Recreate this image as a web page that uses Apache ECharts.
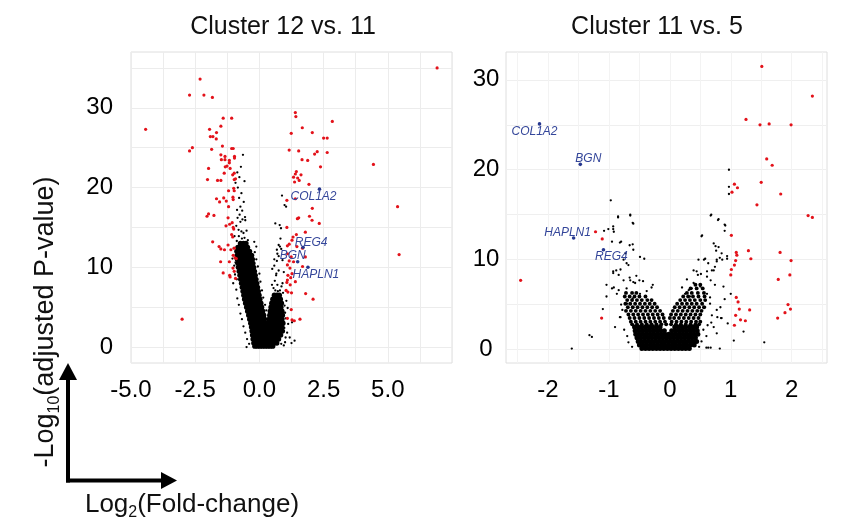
<!DOCTYPE html>
<html><head><meta charset="utf-8">
<script src="https://cdn.jsdelivr.net/npm/echarts@6/dist/echarts.min.js"></script>
<style>html,body{margin:0;padding:0;background:#fff}#c{width:849px;height:530px}</style>
</head><body><div id="c"></div>
<script>
// ---------- axis ticks / labels ----------
const leftXTicks = [-5,-3.75,-2.5,-1.25,0,1.25,2.5,3.75,5,6.25,7.5];
const leftXLabels = [-5,-2.5,0,2.5,5];
const leftYTicks = [0,5,10,15,20,25,30,35];
const leftYLabels = [0,10,20,30];
const rightXTicks = [-2.5,-2,-1.5,-1,-0.5,0,0.5,1,1.5,2,2.5];
const rightXLabels = [-2,-1,0,1,2];
const rightYTicks = [0,5,10,15,20,25,30];
const rightYLabels = [0,10,20,30];

// ---------- Cluster 12 vs. 11 ----------
const leftGenes = ['COL1A2','REG4','BGN','HAPLN1'];
const leftGeneValues = [[2.34,19.8],[1.70,12.5],[1.49,10.7],[1.89,10.0]];
const leftRed = [
[-2.31,33.6],[-2.72,31.6],[-2.16,31.6],[-1.83,31.3],[-4.43,27.3],[-1.41,28.7],[-1.08,28.7],[-1.50,27.7],[-1.94,27.3],[-1.67,26.9],
[-1.91,26.4],[-1.81,26.4],[-1.68,26.1],[-2.61,25.0],[-2.72,24.6],[-1.86,24.8],[-1.44,25.2],[-1.08,24.9],[-1.02,24.9],[-1.50,24.1],
[-1.34,23.9],[-1.48,23.5],[-1.34,23.5],[-0.97,23.9],[-0.97,23.7],[-1.17,23.4],[-1.17,23.1],[-1.26,22.7],[-1.33,22.6],[-1.14,22.4],
[-1.98,22.4],[-1.37,21.8],[-1.04,21.6],[-0.98,21.8],[-2.02,21.0],[-1.63,20.9],[-1.50,20.9],[-0.98,21.0],[-0.93,21.1],[-1.20,19.6],
[-1.00,19.9],[-0.98,19.6],[-1.67,18.6],[-1.55,18.2],[-1.39,18.7],[-1.29,18.3],[-1.03,18.8],[-1.02,18.5],[-1.20,17.6],
[-2.04,16.4],[-1.98,16.7],[-1.77,16.5],[-1.22,16.2],[-1.30,15.2],[-1.16,15.4],[-1.06,15.6],[-1.02,15.0],[-1.00,14.8],[-1.08,14.1],
[-1.04,13.8],[-1.82,13.2],[-1.57,12.6],[-1.50,12.3],[-1.36,12.2],[-1.22,12.8],[-1.11,12.2],[-0.98,12.4],[-1.02,11.5],[-0.95,11.2],
[-0.90,11.1],[-1.51,10.7],[-1.17,10.7],[-1.03,9.9],[-0.98,9.5],[-1.41,9.3],[-1.16,9.0],[-1.14,8.8],[-0.93,8.6],[-3.01,3.5],
[1.40,29.4],[1.42,28.9],[2.84,28.3],[1.24,26.8],[1.67,27.5],[2.06,26.9],[2.50,26.2],[2.64,26.2],[1.16,24.7],[1.53,24.6],
[2.15,24.2],[2.25,24.5],[2.64,24.4],[1.66,23.5],[1.88,23.4],[2.38,22.6],[4.44,22.9],[1.44,22.0],[1.40,21.7],[1.62,21.6],
[1.33,21.3],[1.49,21.2],[1.55,20.9],[1.37,20.7],[1.93,20.4],[1.07,18.4],[1.40,18.6],[2.06,17.4],[1.53,16.2],[1.48,16.1],
[1.95,16.4],[2.05,15.9],[2.33,15.5],[1.07,15.0],[1.79,14.4],[1.44,14.1],[1.31,13.8],[1.27,13.4],[1.16,12.9],[1.09,12.7],
[1.46,12.6],[1.68,12.4],[1.79,11.3],[1.10,11.7],[1.24,11.3],[1.16,10.8],[1.33,10.7],[1.09,10.3],[1.68,10.1],[1.19,9.9],
[1.27,9.2],[1.11,9.0],[1.22,8.7],[1.09,8.4],[1.40,8.2],[1.07,8.1],[1.20,7.8],[1.04,7.1],[1.11,6.9],[1.25,6.8],
[1.80,6.7],[2.09,6.0],[1.24,4.7],[1.09,3.6],[1.27,3.4],[1.36,3.3],[1.58,3.5],[6.92,35.0],[5.38,17.6],[5.44,11.6]
];
// dense non-significant core, listed row by row: [y, [x...]]
const leftCoreRows = [
[13.0,[-0.74,-0.62,-0.52]],
[12.5,[-0.84,-0.74,-0.64,-0.54,-0.46]],
[12.0,[-0.88,-0.78,-0.68,-0.58,-0.48,-0.38]],
[11.5,[-0.87,-0.77,-0.67,-0.57,-0.47,-0.37,-0.30]],
[11.0,[-0.86,-0.76,-0.66,-0.56,-0.46,-0.36,-0.27]],
[10.5,[-0.84,-0.74,-0.64,-0.54,-0.44,-0.34,-0.25]],
[10.0,[-0.82,-0.72,-0.62,-0.52,-0.42,-0.32,-0.22]],
[9.5,[-0.79,-0.69,-0.59,-0.49,-0.39,-0.29,-0.19]],
[9.0,[-0.76,-0.66,-0.56,-0.46,-0.36,-0.26,-0.16]],
[8.5,[-0.73,-0.63,-0.53,-0.43,-0.33,-0.23,-0.13]],
[8.0,[-0.70,-0.60,-0.50,-0.40,-0.30,-0.20,-0.10]],
[7.5,[-0.67,-0.57,-0.47,-0.37,-0.27,-0.17,-0.07]],
[7.0,[-0.64,-0.54,-0.44,-0.34,-0.24,-0.14,-0.04]],
[6.5,[-0.61,-0.51,-0.41,-0.31,-0.21,-0.11,-0.01,0.58,0.68,0.78]],
[6.0,[-0.58,-0.48,-0.38,-0.28,-0.18,-0.08,0.02,0.52,0.62,0.72,0.82]],
[5.5,[-0.54,-0.44,-0.34,-0.24,-0.14,-0.04,0.06,0.48,0.58,0.68,0.78,0.86]],
[5.0,[-0.50,-0.40,-0.30,-0.20,-0.10,0.00,0.09,0.45,0.55,0.65,0.75,0.84]],
[4.5,[-0.46,-0.36,-0.26,-0.16,-0.06,0.04,0.13,0.42,0.52,0.62,0.72,0.82,0.88]],
[4.0,[-0.42,-0.32,-0.22,-0.12,-0.02,0.08,0.17,0.40,0.50,0.60,0.70,0.80,0.90]],
[3.5,[-0.38,-0.28,-0.18,-0.08,0.02,0.12,0.20,0.38,0.48,0.58,0.68,0.78,0.88]],
[3.0,[-0.34,-0.24,-0.14,-0.04,0.06,0.16,0.24,0.36,0.46,0.56,0.66,0.76,0.86,0.92]],
[2.5,[-0.31,-0.21,-0.11,-0.01,0.09,0.19,0.28,0.38,0.48,0.58,0.68,0.78,0.88]],
[2.0,[-0.29,-0.19,-0.09,0.01,0.11,0.21,0.31,0.41,0.51,0.61,0.71,0.81,0.90]],
[1.5,[-0.27,-0.17,-0.07,0.03,0.13,0.23,0.33,0.43,0.53,0.63,0.73,0.83]],
[1.0,[-0.25,-0.15,-0.05,0.05,0.15,0.25,0.35,0.45,0.55,0.65,0.75]],
[0.5,[-0.22,-0.12,-0.02,0.08,0.18,0.28,0.38,0.48,0.58,0.68]],
[0.1,[-0.18,-0.08,0.02,0.12,0.22,0.32,0.42,0.52]]
];
const leftSparse = [
[-0.64,24.1],[-0.86,21.9],[-0.78,21.3],[-0.93,20.6],[-0.84,20.0],[-0.70,19.3],[-0.79,18.7],[-0.61,18.2],[-0.74,17.6],[-0.87,17.2],
[-0.67,17.1],[-0.85,16.2],[-0.56,16.3],[-0.74,15.7],[-0.55,15.9],[-0.81,14.7],[-0.62,14.3],[-0.68,13.6],[-0.90,15.2],[-0.50,14.6],
[-0.97,13.9],[-0.45,13.4],[-0.72,22.6],[-0.58,20.8],[-0.88,13.3],[-0.80,13.9],[-0.58,13.7],[-0.70,14.5],[-0.66,16.0],[-0.77,16.6],
[-1.00,12.4],[-1.05,11.1],[-0.98,10.2],[-0.95,9.1],[-1.02,8.0],[-0.90,7.2],[-0.86,6.1],[-0.80,5.3],[-0.74,4.2],[-0.68,3.5],
[-0.62,2.6],[-0.55,1.8],[-0.48,1.0],[-0.40,0.4],[-0.50,0.0],[-0.93,10.6],[-0.88,8.5],
[-0.12,12.6],[-0.18,11.9],[-0.12,11.0],[-0.06,10.1],[0.00,9.2],[0.04,8.2],[0.10,7.1],[0.15,6.2],[0.22,5.3],[0.27,4.6],[-0.20,13.2],
[0.60,8.3],[0.70,7.8],[0.55,7.4],[0.80,7.1],[0.92,6.8],[0.65,9.0],[0.75,9.6],[0.58,10.2],[0.70,11.7],[0.75,11.4],
[0.75,12.8],[0.80,12.6],[0.85,12.3],[0.79,15.3],[0.84,14.9],[0.88,19.0],[0.98,17.8],[1.04,17.6],[0.62,15.5],[0.68,12.2],
[0.66,9.2],[0.49,7.8],[1.05,5.8],[1.10,4.9],[1.02,3.6],[1.12,2.9],[1.08,1.8],[1.18,1.2],[1.00,0.6],[1.25,0.5],
[0.95,0.2],[0.90,8.0],[0.68,10.8],[0.50,9.8],[1.37,0.8],[1.27,3.1],[0.97,2.4],[1.02,1.2],[0.85,0.4],[0.45,0.05],
[0.90,10.9],[0.82,13.6],[0.95,9.4],[0.58,11.0],[0.98,5.2],[1.00,4.3],[0.72,7.0],[0.86,7.6],[0.62,7.1]
];

// ---------- Cluster 11 vs. 5 ----------
const rightGenes = ['COL1A2','BGN','HAPLN1','REG4'];
const rightGeneValues = [[-2.14,25.1],[-1.47,20.6],[-1.58,12.4],[-1.09,11.1]];
const rightRed = [
[1.51,31.5],[2.34,28.2],[1.25,25.6],[1.48,25.0],[1.63,25.1],[1.99,25.0],[1.59,21.2],[1.68,20.5],[1.50,18.6],[1.06,18.4],
[1.11,18.0],[1.02,17.5],[1.82,17.3],[1.43,16.1],[2.27,14.9],[2.34,14.7],[1.01,12.7],[-1.22,13.1],[-1.11,12.3],[-2.45,7.7],
[-1.12,3.5],[1.09,10.8],[1.10,10.5],[1.29,11.0],[1.33,10.1],[1.81,10.8],[1.99,9.9],[1.08,9.9],[1.06,9.4],[1.01,8.9],
[1.00,8.3],[1.78,7.8],[1.97,8.3],[1.09,5.8],[1.12,5.3],[1.14,4.5],[1.31,4.4],[1.08,3.8],[1.16,3.3],[1.24,3.2],
[1.06,2.7],[1.77,3.5],[1.89,4.1],[1.94,5.0],[1.98,4.5]
];
const rightCoreRows = [
[0.1,[-0.46,-0.40,-0.34,-0.28,-0.22,-0.16,-0.10,-0.04,0.02,0.08,0.14,0.20,0.26,0.32]],
[0.5,[-0.50,-0.44,-0.38,-0.32,-0.26,-0.20,-0.14,-0.08,-0.02,0.04,0.10,0.16,0.22,0.28,0.34,0.40]],
[0.9,[-0.52,-0.46,-0.40,-0.34,-0.28,-0.22,-0.16,-0.10,-0.04,0.02,0.08,0.14,0.20,0.26,0.32,0.38,0.44]],
[1.3,[-0.54,-0.48,-0.42,-0.36,-0.30,-0.24,-0.18,-0.12,-0.06,0.00,0.06,0.12,0.18,0.24,0.30,0.36,0.42]],
[1.7,[-0.56,-0.50,-0.44,-0.38,-0.32,-0.26,-0.20,-0.14,-0.08,-0.02,0.04,0.10,0.16,0.22,0.28,0.34,0.40,0.46]],
[2.1,[-0.57,-0.51,-0.45,-0.39,-0.33,-0.27,-0.21,-0.15,-0.09,0.03,0.09,0.15,0.21,0.27,0.33,0.39,0.45]],
[2.5,[-0.58,-0.52,-0.46,-0.40,-0.34,-0.28,-0.22,-0.16,0.08,0.14,0.20,0.26,0.32,0.38,0.44]]
];
const rightArmRows = [
[7.2,[0.42,0.50]],
[6.8,[0.34,0.44,0.54]],
[6.3,[-0.72,-0.62,-0.55,0.28,0.36,0.46,0.56]],
[5.9,[-0.74,-0.66,-0.58,-0.50,-0.40,0.22,0.30,0.38,0.47,0.57]],
[5.5,[-0.70,-0.62,-0.54,-0.46,-0.37,-0.30,0.17,0.25,0.33,0.41,0.50,0.58]],
[5.1,[-0.73,-0.65,-0.57,-0.49,-0.41,-0.33,-0.25,0.12,0.20,0.28,0.36,0.44,0.53]],
[4.7,[-0.69,-0.61,-0.53,-0.45,-0.37,-0.29,-0.21,0.08,0.16,0.24,0.32,0.40,0.48,0.56]],
[4.3,[-0.72,-0.64,-0.56,-0.48,-0.40,-0.32,-0.24,-0.16,0.05,0.13,0.21,0.29,0.37,0.45,0.52]],
[3.9,[-0.68,-0.60,-0.52,-0.44,-0.36,-0.28,-0.20,-0.12,0.02,0.10,0.18,0.26,0.34,0.42,0.50]],
[3.5,[-0.66,-0.58,-0.50,-0.42,-0.34,-0.26,-0.18,-0.10,0.00,0.07,0.15,0.23,0.31,0.39,0.47]],
[3.1,[-0.64,-0.56,-0.48,-0.40,-0.32,-0.24,-0.16,-0.08,0.03,0.11,0.19,0.27,0.35,0.43,0.50]],
[2.8,[-0.62,-0.54,-0.46,-0.38,-0.30,-0.22,-0.14,-0.06,0.02,0.10,0.18,0.26,0.34,0.42,0.48]]
];
const rightSparse = [
[0.97,20.0],[0.97,18.1],[0.97,17.3],[-0.97,16.6],[0.67,14.9],[0.79,14.4],[-0.65,14.9],[-0.61,14.1],[-0.85,14.7],[0.91,13.8],
[0.90,13.2],[0.52,12.6],[-1.08,13.2],[-1.01,13.4],[-0.93,13.4],[-0.92,13.1],[-0.95,12.0],[-0.80,12.0],[-0.61,11.7],[-0.60,11.1],
[0.75,11.5],[0.76,11.0],[0.86,10.0],[0.82,10.2],[0.77,10.0],[0.94,10.4],[-0.49,10.3],[-0.42,10.1],
[-0.73,10.7],[-0.76,10.0],[-0.71,9.6],[-0.88,8.8],[-0.93,8.5],[-0.84,8.3],[-0.66,8.0],[-0.76,7.7],[-0.92,6.9],[-0.84,6.6],
[-0.71,6.8],[-0.57,7.4],[-0.44,7.6],[-0.28,7.2],[-0.49,6.2],[-0.61,5.7],[-0.70,5.1],[-0.60,4.7],[-0.81,3.6],[-0.87,6.2],[-1.04,5.9],
[0.47,10.0],[0.58,10.1],[0.63,9.6],[0.72,8.8],[0.39,8.8],[0.46,8.3],[0.61,8.1],[0.67,7.7],[0.39,7.4],[0.36,6.8],
[0.50,7.0],[0.61,6.2],[0.74,7.2],[0.88,7.0],[0.66,5.1],[0.58,4.7],[0.83,4.7],[0.78,3.6],[0.84,3.5],[0.72,2.5],
[0.77,1.8],[0.60,0.2],[0.63,0.2],[0.67,0.2],[0.82,0.1],[-1.61,0.1],[-1.32,1.6],[-1.28,1.4],[1.55,0.8],
[-0.82,3.6],[-1.04,7.2],[-0.95,6.8],[-0.93,8.7],[-0.81,8.9],[-0.68,9.4],[-0.65,7.7],[-0.60,7.5],[-0.50,7.7],[0.44,8.7],
[0.51,8.4],[0.61,8.7],[0.69,8.8],[0.74,9.2],[0.56,10.0],[0.77,9.8],[0.94,10.1],[0.85,10.7],[0.80,11.4],[0.72,11.8],
[0.53,12.7],[0.68,15.0],[0.80,14.5],[0.90,13.9],[-0.85,14.8],[-0.65,15.0],[-0.60,14.0],[-0.93,13.7],[-0.82,11.9],[-0.66,11.6],
[1.21,2.0],[0.85,3.5],[0.69,3.8],[0.77,4.4],[0.25,6.2],[0.31,6.6],[0.33,5.9],
[-0.75,2.2],[-0.70,1.5],[-0.68,0.8],[-0.62,0.3],[0.55,2.2],[0.60,1.5],[0.52,0.9],[0.48,0.3],[-0.80,5.0],[-0.78,4.4],
[0.66,5.8],[0.68,3.0],[0.62,2.7],[-0.55,8.2],[-0.38,6.5],[-0.30,6.9],[0.20,6.9],[0.28,7.8],[0.90,5.6],[1.00,6.2],
[-1.10,4.5],[-0.90,2.5],[0.95,2.9],[1.05,1.0]
];

// ---------- styling (not data) ----------
const FF = '"Liberation Sans", Arial, sans-serif';
const RED = '#e3121a', BLACK = '#000000', BLUE = '#26378f', LBLUE = '#34469a';
const leftLabelOffsets = {COL1A2:[-6,7], REG4:[8,-5], BGN:[-5,-6], HAPLN1:[8,7]};
const rightLabelOffsets = {COL1A2:[-5,8], BGN:[8,-6], HAPLN1:[-6,-5], REG4:[8,7]};

const rowsToPoints = rows => rows.flatMap(r => r[1].map(x => [x, r[0]]));

function geneData(names, values, offsets) {
  return names.map((n, i) => ({name: n, value: values[i], label: {offset: offsets[n]}}));
}
function scatter(idx, data, color, size, z) {
  return {type: 'scatter', xAxisIndex: idx, yAxisIndex: idx, data: data, symbol: 'circle',
    symbolSize: size, itemStyle: {color: color, opacity: 1}, silent: true, z: z, animation: false};
}
function geneSeries(idx, data) {
  const s = scatter(idx, data, BLUE, 3.6, 5);
  s.label = {show: true, position: 'inside', formatter: '{b}', fontStyle: 'italic', fontSize: 12,
    color: LBLUE, fontFamily: FF};
  return s;
}
const gridLine = {show: true, lineStyle: {color: '#ececec', width: 1}};
const labelStyle = {fontSize: 24, color: '#000', fontFamily: FF};

const chart = echarts.init(document.getElementById('c'), null, {renderer: 'canvas'});
chart.setOption({
  animation: false,
  backgroundColor: '#fff',
  grid: [
    {left: 131, top: 52, width: 321, height: 311, show: true, borderColor: '#dedede', borderWidth: 1, backgroundColor: '#fff'},
    {left: 506, top: 52, width: 321, height: 311, show: true, borderColor: '#dedede', borderWidth: 1, backgroundColor: '#fff'}
  ],
  xAxis: [
    {gridIndex: 0, type: 'value', min: -5, max: 7.5, axisLine: {show: false},
     axisTick: {show: false, customValues: leftXTicks}, splitLine: gridLine,
     axisLabel: Object.assign({customValues: leftXLabels, margin: 15, formatter: v => v.toFixed(1)}, labelStyle)},
    {gridIndex: 1, type: 'value', min: -2.69, max: 2.58, axisLine: {show: false},
     axisTick: {show: false, customValues: rightXTicks}, splitLine: {show: true, lineStyle: {color: '#f3f3f3', width: 1}},
     axisLabel: Object.assign({customValues: rightXLabels, margin: 15}, labelStyle)}
  ],
  yAxis: [
    {gridIndex: 0, type: 'value', min: -2, max: 37, axisLine: {show: false},
     axisTick: {show: false, customValues: leftYTicks}, splitLine: gridLine,
     axisLabel: Object.assign({customValues: leftYLabels, margin: 18, align: 'right'}, labelStyle)},
    {gridIndex: 1, type: 'value', min: -1.5, max: 33.1, axisLine: {show: false},
     axisTick: {show: false, customValues: rightYTicks}, splitLine: {show: true, lineStyle: {color: '#efefef', width: 1}},
     axisLabel: Object.assign({customValues: rightYLabels, margin: 20, align: 'center'}, labelStyle)}
  ],
  series: [
    scatter(0, rowsToPoints(leftCoreRows), BLACK, 5.2, 2),
    scatter(0, leftSparse, BLACK, 2.3, 2),
    scatter(0, leftRed, RED, 3.2, 3),
    geneSeries(0, geneData(leftGenes, leftGeneValues, leftLabelOffsets)),
    scatter(1, rowsToPoints(rightCoreRows), BLACK, 5.0, 2),
    scatter(1, rowsToPoints(rightArmRows), BLACK, 3.9, 2),
    scatter(1, rightSparse, BLACK, 2.3, 2),
    scatter(1, rightRed, RED, 3.2, 3),
    geneSeries(1, geneData(rightGenes, rightGeneValues, rightLabelOffsets))
  ],
  graphic: [
    {type: 'text', x: 283, y: 27, style: {text: 'Cluster 12 vs. 11', fontSize: 25, fontFamily: FF, fill: '#111', align: 'center', verticalAlign: 'middle'}},
    {type: 'text', x: 657, y: 27, style: {text: 'Cluster 11 vs. 5', fontSize: 25, fontFamily: FF, fill: '#111', align: 'center', verticalAlign: 'middle'}},
    {type: 'text', x: 46, y: 322, rotation: Math.PI / 2,
     style: {text: '{m|-Log}{s|10}{m|(adjusted P-value)}', align: 'center', verticalAlign: 'middle', fill: '#111',
       rich: {m: {fontSize: 27, lineHeight: 27, fontFamily: FF, verticalAlign: 'top', fill: '#111'},
              s: {fontSize: 16, lineHeight: 16, fontFamily: FF, verticalAlign: 'top', padding: [14, 0, 0, 0], fill: '#111'}}}},
    {type: 'text', x: 192, y: 505,
     style: {text: '{m|Log}{s|2}{m|(Fold-change)}', align: 'center', verticalAlign: 'middle', fill: '#111',
       rich: {m: {fontSize: 26, lineHeight: 26, fontFamily: FF, verticalAlign: 'top', fill: '#111'},
              s: {fontSize: 16, lineHeight: 16, fontFamily: FF, verticalAlign: 'top', padding: [13, 0, 0, 0], fill: '#111'}}}},
    {type: 'line', shape: {x1: 68, y1: 482.5, x2: 68, y2: 376}, style: {stroke: '#000', lineWidth: 4}},
    {type: 'polygon', shape: {points: [[68, 363], [59, 380], [77, 380]]}, style: {fill: '#000'}},
    {type: 'line', shape: {x1: 66, y1: 480.5, x2: 164, y2: 480.5}, style: {stroke: '#000', lineWidth: 4}},
    {type: 'polygon', shape: {points: [[177, 480.5], [161, 472], [161, 489]]}, style: {fill: '#000'}}
  ]
});
</script></body></html>
